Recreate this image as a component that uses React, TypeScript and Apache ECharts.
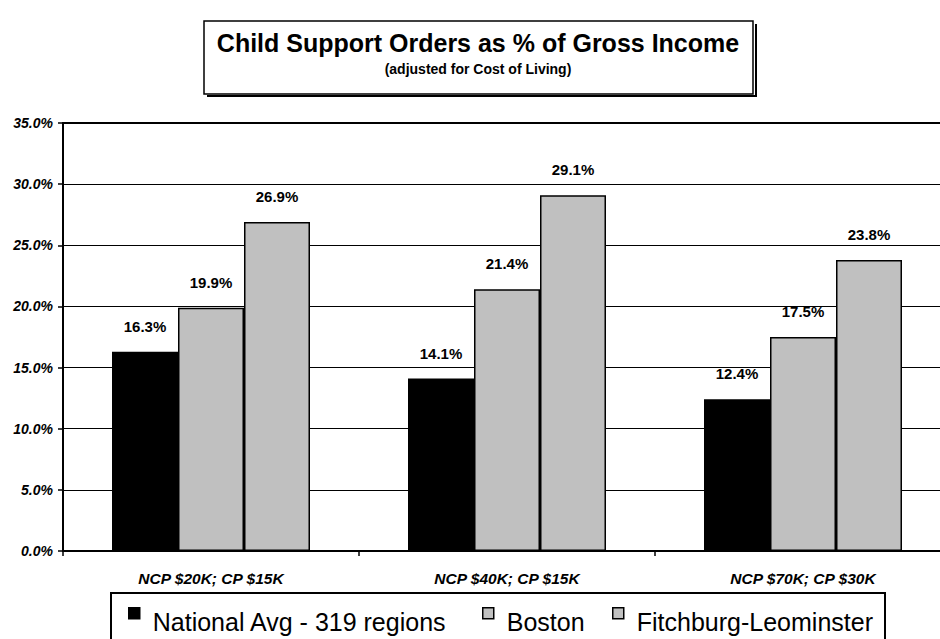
import React, { useEffect, useRef } from "react";
import * as echarts from "echarts";

const categories = ["NCP $20K; CP $15K", "NCP $40K; CP $15K", "NCP $70K; CP $30K"];
const seriesNames = ["National Avg - 319 regions", "Boston", "Fitchburg-Leominster"];
const nationalAvg = [16.3, 14.1, 12.4];
const boston = [19.9, 21.4, 17.5];
const fitchburg = [26.9, 29.1, 23.8];
const yTicks = { min: 0, max: 35, interval: 5 };
const titleText = "Child Support Orders as % of Gross Income";
const subtitleText = "(adjusted for Cost of Living)";

const FONT = "'Liberation Sans', Arial, sans-serif";

export default function App() {
  const ref = useRef<HTMLDivElement>(null);
  useEffect(() => {
    if (!ref.current) return;
    const chart = echarts.init(ref.current, undefined, { renderer: "svg" });
    const colors = ["#000000", "#C0C0C0", "#C0C0C0"];
    const values = [nationalAvg, boston, fitchburg];
    const pct = (v: number) => v.toFixed(1) + "%";
    const legendLefts = [128, 482, 612];
    chart.setOption({
      animation: false,
      backgroundColor: "#ffffff",
      textStyle: { fontFamily: FONT },
      grid: { left: 63, top: 123, right: 0, bottom: 88, containLabel: false },
      xAxis: [
        {
          type: "category",
          data: categories,
          axisLine: { show: true, lineStyle: { color: "#000", width: 2 } },
          axisTick: { show: true, inside: false, length: 5, alignWithLabel: false, lineStyle: { color: "#000", width: 1.5 } },
          axisLabel: {
            margin: 19,
            fontFamily: FONT,
            fontSize: 15.5,
            fontWeight: "bold",
            fontStyle: "italic",
            color: "#000",
          },
          splitLine: { show: false },
        },
        {
          type: "category",
          data: categories,
          position: "top",
          axisLine: { show: true, lineStyle: { color: "#000", width: 2 } },
          axisTick: { show: false },
          axisLabel: { show: false },
          splitLine: { show: false },
        },
      ],
      yAxis: {
        type: "value",
        min: yTicks.min,
        max: yTicks.max,
        interval: yTicks.interval,
        axisLine: { show: true, lineStyle: { color: "#000", width: 2 } },
        axisTick: { show: true, inside: false, length: 5, lineStyle: { color: "#000", width: 1.5 } },
        axisLabel: {
          formatter: (v: number) => pct(v),
          margin: 10,
          fontFamily: FONT,
          fontSize: 14,
          fontWeight: "bold",
          fontStyle: "italic",
          color: "#000",
        },
        splitLine: { show: true, lineStyle: { color: "#000", width: 1 } },
      },
      legend: seriesNames.map((name, i) => ({
        data: [name],
        left: legendLefts[i],
        top: 607,
        padding: 0,
        itemWidth: 11,
        itemHeight: 11,
        icon: "rect",
        selectedMode: false,
        itemStyle: { borderColor: "#000", borderWidth: 1.5 },
        formatter: (n: string) => "{t|" + n + "}",
        textStyle: {
          fontFamily: FONT,
          fontSize: 25,
          color: "#000",
          rich: {
            t: {
              fontFamily: FONT,
              fontSize: 25,
              color: "#000",
              lineHeight: 42,
              verticalAlign: "bottom",
              padding: [0, 0, 0, 8],
            },
          },
        },
      })),
      series: seriesNames.map((name, i) => ({
        name,
        type: "bar",
        data: values[i],
        barWidth: 66,
        barGap: "0%",
        itemStyle: { color: colors[i], borderColor: "#000", borderWidth: 1.5 },
        label: {
          show: true,
          position: "top",
          distance: 18,
          formatter: (p: any) => pct(p.value),
          fontFamily: FONT,
          fontSize: 15,
          fontWeight: "bold",
          color: "#000",
        },
      })),
      graphic: [
        {
          type: "rect",
          shape: { x: 204, y: 21, width: 549, height: 73 },
          style: { fill: "#fff", stroke: "#000", lineWidth: 1.5 },
        },
        {
          type: "polyline",
          shape: { points: [[756, 24], [756, 96], [207, 96]] },
          style: { fill: null, stroke: "#000", lineWidth: 2 },
        },
        {
          type: "text",
          x: 478,
          y: 43,
          style: {
            text: titleText,
            fontFamily: FONT,
            fontSize: 25,
            fontWeight: "bold",
            fill: "#000",
            align: "center",
            verticalAlign: "middle",
          },
        },
        {
          type: "text",
          x: 478,
          y: 69,
          style: {
            text: subtitleText,
            fontFamily: FONT,
            fontSize: 14,
            fontWeight: "bold",
            fill: "#000",
            align: "center",
            verticalAlign: "middle",
          },
        },
        {
          type: "rect",
          shape: { x: 111, y: 593, width: 774, height: 60 },
          style: { fill: null, stroke: "#000", lineWidth: 2 },
          z: -1,
        },
      ],
    });
    return () => chart.dispose();
  }, []);
  return (
    <div
      ref={ref}
      style={{ position: "fixed", left: 0, top: 0, width: 951, height: 639 }}
    />
  );
}
